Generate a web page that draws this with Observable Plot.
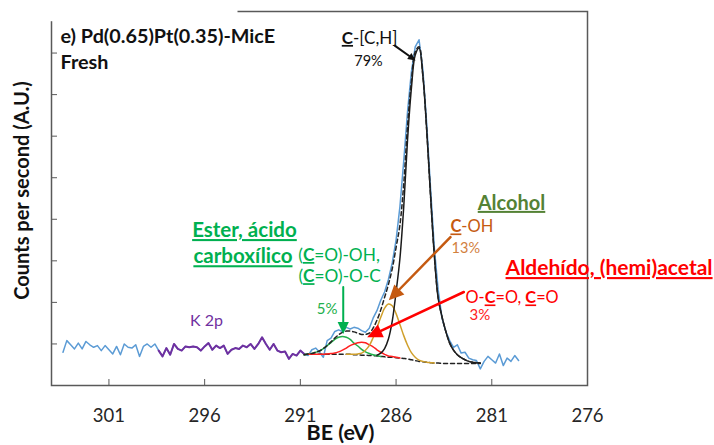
<!DOCTYPE html>
<html><head><meta charset="utf-8">
<script src="https://cdn.jsdelivr.net/npm/d3@7"></script>
<script src="https://cdn.jsdelivr.net/npm/@observablehq/plot@0.6"></script>
<style>body{margin:0;background:#fff}</style>
</head><body><div id="chart"></div>
<script>
// Measured C 1s spectrum (binding energy grid: start, step in eV)
const beStart = 303.4, beStep = 0.2;
const counts = [
  0.80,1.08,0.98,0.88,1.02,0.88,1.06,0.98,0.92,0.96,
  0.84,0.96,0.86,0.76,0.94,0.74,1.00,0.92,0.90,0.98,
  0.70,0.94,1.00,0.92,1.00,0.84,0.70,0.90,0.74,1.00,
  0.88,0.84,0.94,0.92,0.94,0.92,0.84,0.94,1.02,0.86,
  0.96,0.90,0.96,0.76,0.86,0.90,0.88,0.96,0.92,1.00,
  0.88,1.00,1.16,1.00,0.86,1.00,0.84,0.80,0.82,0.64,
  0.76,0.72,0.84,0.76,0.72,0.86,0.90,0.80,0.68,1.08,
  1.14,1.30,1.34,1.30,1.40,1.36,1.40,1.38,1.32,1.28,
  1.38,1.62,1.80,2.05,2.25,2.55,2.95,3.50,4.30,5.40,
  6.60,7.55,8.15,8.32,7.60,6.30,4.75,3.30,2.30,1.62,
  1.30,1.08,0.92,0.98,0.78,0.80,0.66,0.62,0.60,0.40,
  0.58,0.70,0.62,0.54,0.76,0.48,0.66,0.58,0.72,0.60
];
const k2pRange = [298.4, 290.8];

// Fitted curves on their own grid (start, step in eV); null = not drawn
const fitStart = 290.8, fitStep = 0.2;
const background = [
  0.74,0.75,0.75,0.75,0.75,0.75,0.75,0.75,0.75,0.75,
  0.75,0.75,0.75,0.74,0.74,0.73,0.73,0.72,0.72,0.71,
  0.70,0.69,0.68,0.68,0.67,0.66,0.65,0.64,0.62,0.60,
  0.58,0.57,0.56,0.55,0.54,0.54,0.53,0.53,0.53,0.53,
  0.53,0.53,0.53,0.53,0.53,0.53,0.53
];
const fitEster = [
  0.74,0.76,0.77,0.80,0.83,0.89,0.96,1.03,1.11,1.16,
  1.18,1.16,1.11,1.02,0.95,0.87,0.81,0.77,0.74,0.72,
  0.70,null,null,null,null,null,null,null,null,null,
  null,null,null,null,null,null,null,null,null,null,
  null,null,null,null,null,null,null
];
const fitAldehyde = [
  null,0.75,0.75,0.75,0.75,0.75,0.76,0.77,0.78,0.81,
  0.85,0.90,0.96,1.00,1.03,1.04,1.03,0.98,0.93,0.86,
  0.80,0.75,0.71,0.70,0.68,0.66,null,null,null,null,
  null,null,null,null,null,null,null,null,null,null,
  null,null,null,null,null,null,null
];
const fitAlcohol = [
  null,null,null,null,null,null,null,null,null,null,
  null,0.75,0.75,0.75,0.76,0.78,0.85,0.96,1.15,1.39,
  1.64,1.86,1.96,1.92,1.73,1.47,1.20,0.97,0.79,0.68,
  0.61,0.58,0.56,0.55,0.54,null,null,null,null,null,
  null,null,null,null,null,null,null
];
const fitCC = [
  null,null,null,null,null,null,null,null,null,null,
  null,null,null,null,null,null,null,null,null,0.73,
  0.78,0.89,1.12,1.55,2.25,3.05,4.30,5.92,7.15,7.95,
  8.12,7.45,6.15,4.58,3.12,2.10,1.65,1.30,1.02,0.85,
  0.74,0.67,0.62,0.58,0.56,0.55,0.54
];
const envelope = [
  0.74,0.76,0.77,0.80,0.83,0.89,0.96,1.05,1.14,1.22,
  1.28,1.31,1.31,1.29,1.26,1.23,1.23,1.26,1.38,1.57,
  1.82,2.12,2.43,2.81,3.32,3.86,4.85,6.25,7.32,8.03,
  8.15,7.46,6.15,4.58,3.12,2.10,1.65,1.30,1.02,0.85,
  0.74,0.67,0.62,0.58,0.56,0.55,0.54
];

const xTicks = [301, 296, 291, 286, 281, 276];
const yTicks = [1, 2, 3, 4, 5, 6, 7, 8];

// Annotations (text, binding energy, counts); § marks bold underlined parts
const noteText = [
  "e) Pd(0.65)Pt(0.35)-MicE", "Fresh", "§C§-[C,H]", "79%",
  "§Alcohol§", "§C§-OH", "13%",
  "§Aldehído, (hemi)acetal§", "O-§C§=O, §C§=O", "3%",
  "§Ester, ácido§", "§carboxílico§", "(§C§=O)-OH,", "(§C§=O)-O-C", "5%",
  "K 2p"
];
const noteBE  = [303.53, 303.53, 287.38, 287.44, 279.97, 283.16, 283.10, 280.28, 282.37, 282.16, 293.92, 294.00, 291.11, 291.10, 289.60, 295.90];
const noteCps = [8.39, 7.78, 8.35, 7.80, 4.38, 3.81, 3.30, 2.82, 2.10, 1.68, 3.73, 3.10, 3.13, 2.62, 1.83, 1.56];

// Arrows: from (be1, cps1) to (be2, cps2)
const arrowBE1  = [286.07, 283.16, 282.46, 288.76];
const arrowCps1 = [8.18, 3.57, 2.25, 2.37];
const arrowBE2  = [284.98, 286.38, 287.51, 288.76];
const arrowCps2 = [7.82, 2.05, 1.16, 1.24];

const r1 = v => Math.round(v * 10) / 10;
const spectrum = counts.map((c, i) => ({be: r1(beStart - i * beStep), cps: c}));
const k2p = spectrum.filter(d => d.be <= k2pRange[0] && d.be >= k2pRange[1]);
const fits = background.map((b, i) => ({
  be: r1(fitStart - i * fitStep), bg: b, ester: fitEster[i], ald: fitAldehyde[i],
  alc: fitAlcohol[i], cc: fitCC[i], env: envelope[i]
}));

const fitLine = (key, stroke, extra = {}) =>
  Plot.line(fits, {x: "be", y: key, stroke, strokeWidth: 1.5, curve: "catmull-rom", ...extra});
const note = (idx, opts) => Plot.text(idx, {
  x: i => noteBE[i], y: i => noteCps[i], text: i => noteText[i], ...opts
});
const arrow = (i, stroke, w) => Plot.arrow([i], {
  x1: j => arrowBE1[j], y1: j => arrowCps1[j], x2: j => arrowBE2[j], y2: j => arrowCps2[j],
  stroke, strokeWidth: w, headLength: 10, headAngle: 50
});

const svg = Plot.plot({
  width: 714, height: 445,
  marginLeft: 51, marginRight: 127, marginTop: 11, marginBottom: 60,
  style: {fontFamily: "Lato, sans-serif", fontSize: "16px", background: "white", overflow: "visible", color: "#000"},
  x: {domain: [304, 276]},
  y: {domain: [0, 9]},
  marks: [
    Plot.axisX(xTicks, {tickSize: -6, tickPadding: 29, fontSize: 18.5, stroke: "#595959", fill: "#262626", label: null}),
    Plot.axisY(yTicks, {tickSize: -6, tickFormat: () => "", stroke: "#595959", label: null}),
    Plot.frame({stroke: "#595959", strokeWidth: 1.5}),
    Plot.line(spectrum, {x: "be", y: "cps", stroke: "#5b9bd5", strokeWidth: 1.5}),
    Plot.line(k2p, {x: "be", y: "cps", stroke: "#7030a0", strokeWidth: 2}),
    fitLine("bg", "#222", {strokeDasharray: "4,3"}),
    fitLine("ester", "#22b04b"),
    fitLine("ald", "#ff2020"),
    fitLine("alc", "#d0a02c"),
    fitLine("cc", "#1a1a1a"),
    fitLine("env", "#222", {strokeDasharray: "4,3"}),
    arrow(0, "#111", 2),
    arrow(1, "#c55a11", 2.5),
    arrow(2, "#ff0000", 2.5),
    arrow(3, "#00b050", 2),
    note([0, 1], {textAnchor: "start", fontSize: 19.8, fontWeight: "bold", fill: "#111"}),
    note([2], {textAnchor: "middle", fontSize: 17, fill: "#111"}),
    note([3], {textAnchor: "middle", fontSize: 14.5, fill: "#111"}),
    note([4], {textAnchor: "middle", fontSize: 20, fill: "#548235"}),
    note([5], {textAnchor: "start", fontSize: 16.5, fill: "#c55a11"}),
    note([6], {textAnchor: "start", fontSize: 14.5, fill: "#d2803d"}),
    note([7], {textAnchor: "start", fontSize: 21, fill: "#ff0000"}),
    note([8], {textAnchor: "start", fontSize: 16.3, fill: "#ff0000"}),
    note([9], {textAnchor: "start", fontSize: 15, fill: "#ff2020"}),
    note([10, 11], {textAnchor: "middle", fontSize: 20.5, fill: "#00b050"}),
    note([12, 13], {textAnchor: "start", fontSize: 17.3, fill: "#00b050"}),
    note([14], {textAnchor: "middle", fontSize: 15, fill: "#22b04b"}),
    note([15], {textAnchor: "middle", fontSize: 16, fill: "#7030a0"}),
    Plot.text(["Counts per second (A.U.)"], {text: d => d, frameAnchor: "left", textAnchor: "middle", lineAnchor: "middle", rotate: -90, dx: -29, dy: -8, fontSize: 20, fontWeight: "bold", fill: "#111"}),
    Plot.text(["BE (eV)"], {text: d => d, frameAnchor: "bottom", textAnchor: "middle", lineAnchor: "middle", dx: 21, dy: 48, fontSize: 21.5, fontWeight: "bold", fill: "#111"})
  ]
});

const NS = "http://www.w3.org/2000/svg";
// bold + underlined segments marked with §
svg.querySelectorAll("text").forEach(t => {
  const s = t.textContent;
  if (!s.includes("§")) return;
  t.textContent = "";
  s.split("§").forEach((part, j) => {
    if (!part) return;
    const ts = document.createElementNS(NS, "tspan");
    ts.textContent = part;
    if (j % 2) { ts.setAttribute("font-weight", "bold"); ts.setAttribute("text-decoration", "underline"); }
    t.appendChild(ts);
  });
});

// filled arrowheads
svg.querySelectorAll('g[aria-label="arrow"] path').forEach(p => {
  const n = (p.getAttribute("d").match(/-?\d*\.?\d+(?:e-?\d+)?/g) || []).map(Number);
  if (n.length !== 10) return;
  const [x1, y1, x2, y2, ax, ay, , , bx, by] = n;
  const mx = (ax + bx) / 2, my = (ay + by) / 2;
  p.setAttribute("d", `M${x1},${y1}L${mx},${my}`);
  const head = document.createElementNS(NS, "path");
  head.setAttribute("d", `M${ax},${ay}L${x2},${y2}L${bx},${by}Z`);
  const col = p.getAttribute("stroke") || p.parentNode.getAttribute("stroke");
  head.setAttribute("fill", col);
  head.setAttribute("stroke", "none");
  p.parentNode.appendChild(head);
});

document.getElementById("chart").appendChild(svg);

// white label boxes behind two headings
svg.querySelectorAll("text").forEach(t => {
  const s = t.textContent;
  let pad = null;
  if (s.startsWith("Aldehído")) pad = {l: 15, r: 30, t: 10, b: 10, stroke: "none"};
  if (s === "Alcohol") pad = {l: 21, r: 21, t: 8, b: 6, stroke: "#ececec"};
  if (!pad) return;
  const b = t.getBBox();
  const r = document.createElementNS(NS, "rect");
  r.setAttribute("x", b.x - pad.l); r.setAttribute("y", b.y - pad.t);
  r.setAttribute("width", b.width + pad.l + pad.r); r.setAttribute("height", b.height + pad.t + pad.b);
  r.setAttribute("fill", "white"); r.setAttribute("stroke", pad.stroke);
  t.parentNode.insertBefore(r, t);
});
</script>
</body></html>
